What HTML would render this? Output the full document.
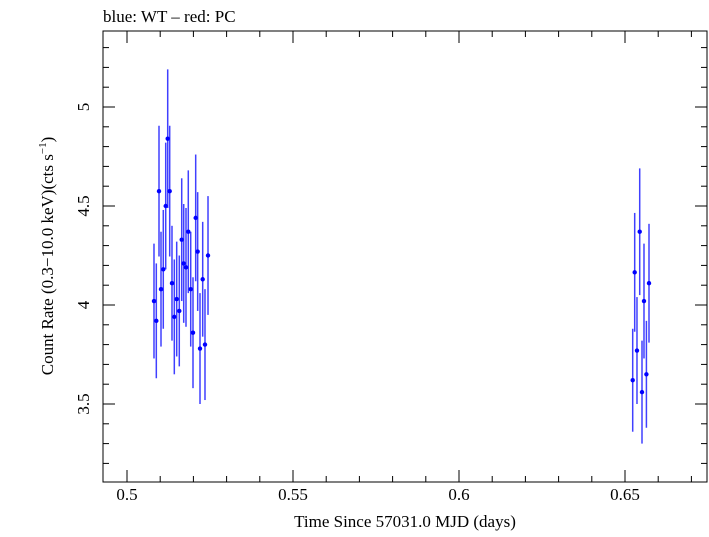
<!DOCTYPE html>
<html><head><meta charset="utf-8"><style>
body{margin:0;background:#fff}
svg text{font-family:"Liberation Serif",serif;fill:#000}
</style></head><body>
<svg id="chart" width="709" height="532" xmlns="http://www.w3.org/2000/svg">
<text x="103" y="22" font-size="17">blue: WT – red: PC</text>
<rect x="103" y="31" width="604" height="451" fill="none" stroke="#000" stroke-width="1"/>
<g id="ticks"></g>
<g id="marks"></g>
<text x="405" y="527" font-size="17" text-anchor="middle">Time Since 57031.0 MJD (days)</text>
<text transform="translate(53,256) rotate(-90)" font-size="17" text-anchor="middle">Count Rate (0.3−10.0 keV)(cts s<tspan font-size="11" dy="-7">−1</tspan><tspan dy="7">)</tspan></text>
</svg>
<script>
const wtTimes=[0.50813,0.50883,0.50964,0.51024,0.51093,0.51166,0.51226,0.51286,0.51355,0.51425,0.51497,0.51575,0.51648,0.51708,0.51777,0.51846,0.51919,0.51988,0.52069,0.52129,0.52199,0.52280,0.52349,0.52440];
const wtRates=[4.02,3.92,4.575,4.08,4.18,4.50,4.84,4.575,4.11,3.94,4.03,3.97,4.33,4.21,4.19,4.37,4.08,3.86,4.44,4.27,3.78,4.13,3.80,4.25];
const wtErrs=[0.29,0.29,0.33,0.29,0.30,0.32,0.35,0.33,0.29,0.29,0.29,0.28,0.31,0.30,0.30,0.31,0.29,0.28,0.32,0.30,0.28,0.29,0.28,0.30];
const pcTimes=[0.65232,0.65292,0.65361,0.65443,0.65512,0.65572,0.65645,0.65723];
const pcRates=[3.62,4.165,3.77,4.37,3.56,4.02,3.65,4.11];
const pcErrs=[0.26,0.30,0.27,0.32,0.26,0.29,0.27,0.30];
const xTicks=[0.5,0.55,0.6,0.65];
const yTicks=[3.5,4,4.5,5];
const NS="http://www.w3.org/2000/svg";
const X=v=>127+(v-0.5)*3320, Y=v=>305-(v-4)*198;
const L=103,R=707,T=31,B=482;
function mk(tag,attrs,parent){const e=document.createElementNS(NS,tag);for(const k in attrs)e.setAttribute(k,attrs[k]);parent.appendChild(e);return e;}
const tg=document.getElementById('ticks'), mg=document.getElementById('marks');
for(let i=0;i<=21;i++){const v=0.49+i*0.01;const x=X(v);if(x<L||x>R)continue;
 const major=xTicks.some(t=>Math.abs(t-v)<1e-6);const len=major?12:6;
 mk('line',{x1:x,x2:x,y1:B,y2:B-len,stroke:'#000'},tg);mk('line',{x1:x,x2:x,y1:T,y2:T+len,stroke:'#000'},tg);}
xTicks.forEach(v=>{const t=mk('text',{x:X(v),y:500,'font-size':17,'text-anchor':'middle'},tg);
 
 
 t.textContent=String(v);});
for(let i=0;i<=30;i++){const v=3.1+i*0.1;const y=Y(v);if(y<T||y>B)continue;
 const major=yTicks.some(t=>Math.abs(t-v)<1e-6);const len=major?12:6;
 mk('line',{x1:L,x2:L+len,y1:y,y2:y,stroke:'#000'},tg);mk('line',{x1:R,x2:R-len,y1:y,y2:y,stroke:'#000'},tg);}
yTicks.forEach(v=>{const t=mk('text',{transform:`translate(89,${Y(v)}) rotate(-90)`,'font-size':17,'text-anchor':'middle'},tg);
 
 
 t.textContent=String(v);});
function series(ts,rs,es,name){ts.forEach((t,i)=>{const x=X(t);
 const l=mk('line',{x1:x,x2:x,y1:Y(rs[i]+es[i]),y2:Y(rs[i]-es[i]),stroke:'#0000ff','stroke-width':1.5,'stroke-opacity':0.75},mg);
 
 
 const c=mk('circle',{cx:x,cy:Y(rs[i]),r:2.2,fill:'#0000ff'},mg);
 
 });}
series(wtTimes,wtRates,wtErrs,'wt');
series(pcTimes,pcRates,pcErrs,'wt-late');
</script>
</body></html>
